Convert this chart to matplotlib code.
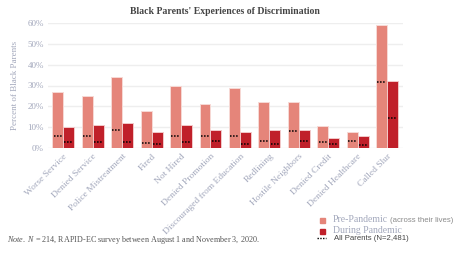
import numpy as np
import matplotlib
matplotlib.use("Agg")
import matplotlib.pyplot as plt
from matplotlib.patches import Rectangle
from matplotlib.lines import Line2D

# Data (percent of Black parents)
categories = ["Worse Service", "Denied Service", "Police Mistreatment", "Fired",
              "Not Hired", "Denied Promotion", "Discouraged from Education",
              "Redlining", "Hostile Neighbors", "Denied Credit",
              "Denied Healthcare", "Called Slur"]
pre_pandemic = [27, 25, 34, 18, 30, 21, 29, 22, 22, 10.5, 7.5, 59]
during_pandemic = [10, 11, 12, 7.5, 11, 8.7, 7.6, 8.7, 8.7, 4.8, 5.7, 32]
all_pre = [6, 6, 8.5, 2.5, 6, 6, 6, 3.2, 8.4, 2.7, 3.2, 31.7]
all_during = [2.7, 2.7, 2.7, 2.1, 2.7, 3.2, 2.1, 2.1, 3.2, 1.7, 1.3, 14.6]
yticks = [0, 10, 20, 30, 40, 50, 60]

pre_color = "#E5857A"
during_color = "#C0202A"
text_gray = "#A3A8BC"
serif = "Liberation Serif"

plt.rcParams["mathtext.fontset"] = "custom"
plt.rcParams["mathtext.rm"] = "Liberation Serif"
plt.rcParams["mathtext.it"] = "Liberation Serif:italic"

fig = plt.figure(figsize=(4.58, 2.54), dpi=100)
ax = fig.add_axes([48 / 458, 1 - 148 / 254, 355 / 458, 125 / 254])

x = np.arange(len(categories))
w = 0.37
ax.bar(x - w / 2, pre_pandemic, w, color=pre_color, edgecolor="#F7D9D5", linewidth=0.7, zorder=2)
ax.bar(x + w / 2, during_pandemic, w, color=during_color, edgecolor="#F2C9C9", linewidth=0.7, zorder=2)

# All parents reference marks
ax.hlines(all_pre, x - w + 0.04, x - 0.04, colors="black", linestyles=(0, (1, 1)), linewidth=1.1, zorder=3)
ax.hlines(all_during, x + 0.04, x + w - 0.04, colors="black", linestyles=(0, (1, 1)), linewidth=1.1, zorder=3)

ax.set_xlim(-0.52, 11.54)
ax.set_ylim(0, 60)
ax.set_yticks(yticks)
ax.set_yticklabels([f"{t}%" for t in yticks], fontfamily=serif, fontsize=6.5, color=text_gray)
ax.set_xticks(x)
ax.set_xticklabels(categories, rotation=45, ha="right", rotation_mode="anchor",
                   fontfamily=serif, fontsize=6.8, color=text_gray)
ax.tick_params(axis="both", length=0, pad=3)
ax.grid(axis="y", color="#EEEEEE", linewidth=1, zorder=0)
for s in ax.spines.values():
    s.set_visible(False)

ax.set_ylabel("Percent of Black Parents", fontfamily=serif, fontsize=6.5, color=text_gray, labelpad=6)

fig.text(225 / 458, 1 - 12 / 254, "Black Parents' Experiences of Discrimination",
         ha="center", va="center", fontfamily=serif, fontweight="bold", fontsize=7, color="#444444")

# Legend drawn by hand
def fx(px):
    return px / 458

def fy(py):
    return 1 - py / 254

fig.patches.append(Rectangle((fx(320), fy(223)), 5 / 458, 5 / 254, transform=fig.transFigure,
                             color=pre_color, figure=fig))
fig.patches.append(Rectangle((fx(320), fy(233.5)), 5 / 458, 5 / 254, transform=fig.transFigure,
                             color=during_color, figure=fig))
fig.lines.append(Line2D([fx(317), fx(326)], [fy(237.5), fy(237.5)], transform=fig.transFigure,
                        color="black", linestyle=(0, (1, 1)), linewidth=1.0, figure=fig))
t1 = fig.text(fx(333), fy(220), "Pre-Pandemic", ha="left", va="center",
              fontfamily=serif, fontsize=7, color=text_gray)
fig.canvas.draw()
bb = t1.get_window_extent()
fig.text(bb.x1 / fig.bbox.width + 0.004, fy(220.5), "(across their lives)", ha="left", va="center",
         fontfamily="Liberation Sans", fontsize=5.6, color="#8A8A8A")
fig.text(fx(333), fy(230.5), "During Pandemic", ha="left", va="center",
         fontfamily=serif, fontsize=7, color=text_gray)
fig.text(fx(334), fy(238), "All Parents (N=2,481)", ha="left", va="center",
         fontfamily="Liberation Sans", fontsize=5.6, color="#444444")

fig.text(fx(7), fy(240), r"$\it{Note.}$ $\it{N}$ = 214, RAPID-EC survey between August 1 and November 3, 2020.",
         ha="left", va="center", fontfamily=serif, fontsize=5.9, color="#555555")

fig.savefig("out.png", dpi=100, facecolor="white")
